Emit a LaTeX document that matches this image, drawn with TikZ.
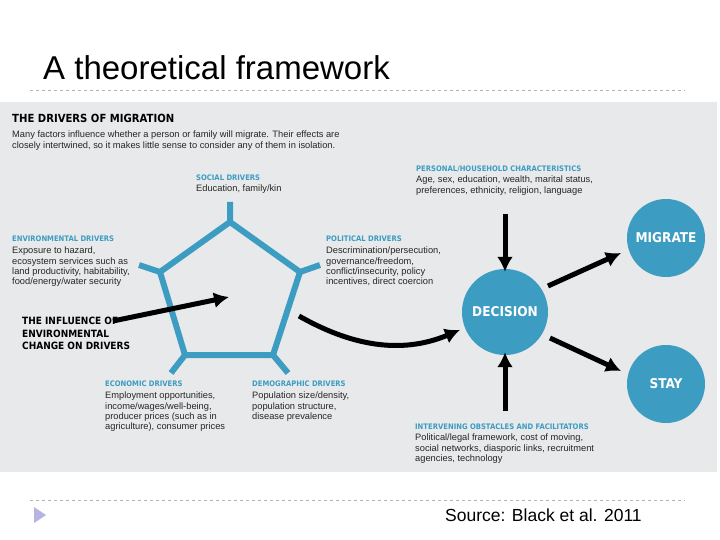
\documentclass[tikz,border=0pt]{standalone}
\usepackage{fontspec}
\setmainfont{Liberation Sans}
\newfontfamily\cond{DejaVu Sans Condensed}
\usetikzlibrary{arrows.meta}
\definecolor{teal}{HTML}{3C9CC2}
\definecolor{panel}{HTML}{E8E9EA}
\tikzset{
 hd/.style={anchor=north west,align=left,inner sep=0,font=\cond\bfseries\fontsize{7.6}{8}\selectfont,text=teal},
 bd/.style={anchor=north west,align=left,inner sep=0,font=\fontsize{9.3}{10.2}\selectfont,text=black!85},
 circ/.style={circle,fill=teal,minimum size=#1,inner sep=0,text=white,font=\cond\bfseries\fontsize{13.5}{15}\selectfont},
 arr/.style={line width=5pt,-{Latex[length=15pt,width=16pt]}},
 pent/.style={teal,line width=6pt}
}
\begin{document}
\begin{tikzpicture}[x=1pt,y=-1pt]
\useasboundingbox (0,0) rectangle (720,540);
\fill[white] (0,0) rectangle (720,540);
\node[anchor=west,inner sep=0,font=\fontsize{33}{36}\selectfont] (title) at (43,68) {A theoretical framework};
\draw[gray!60,dashed] (30,90) -- (685,90);
\fill[panel] (0,102) rectangle (717,472);
\node[anchor=north west,inner sep=0,font=\cond\bfseries\fontsize{11.2}{13}\selectfont] (hdr) at (12,114) {THE DRIVERS OF MIGRATION};
\node[bd] (intro) at (12,131) {Many factors influence whether a person or family will migrate. Their effects are\\closely intertwined, so it makes little sense to consider any of them in isolation.};
% pentagon
\coordinate (p1) at (230,222); \coordinate (p2) at (300,272); \coordinate (p3) at (273,355);
\coordinate (p4) at (185,355); \coordinate (p5) at (160,272);
\draw[pent,line join=miter] (p1)--(p2)--(p3)--(p4)--(p5)--cycle;
\coordinate (s1) at (230,202); \coordinate (s2) at (320,265); \coordinate (s3) at (288,373);
\coordinate (s4) at (171,373); \coordinate (s5) at (139,265);
\draw[pent] (p1)--(s1) (p2)--(s2) (p3)--(s3) (p4)--(s4) (p5)--(s5);
% texts
\node[hd] (soc) at (196,175) {SOCIAL DRIVERS};
\node[bd] (socb) at (196,185) {Education, family/kin};
\node[hd] (env) at (12,236) {ENVIRONMENTAL DRIVERS};
\node[bd] (envb) at (12,247) {Exposure to hazard,\\ecosystem services such as\\land productivity, habitability,\\food/energy/water security};
\node[hd] (pol) at (326,236) {POLITICAL DRIVERS};
\node[bd] (polb) at (326,247) {Descrimination/persecution,\\governance/freedom,\\conflict/insecurity, policy\\incentives, direct coercion};
\node[anchor=north west,align=left,inner sep=0,font=\cond\bfseries\fontsize{10}{12.5}\selectfont] (infl) at (22,317) {THE INFLUENCE OF\\ENVIRONMENTAL\\CHANGE ON DRIVERS};
\node[hd] (eco) at (105,381) {ECONOMIC DRIVERS};
\node[bd] (ecob) at (105,392) {Employment opportunities,\\income/wages/well-being,\\producer prices (such as in\\agriculture), consumer prices};
\node[hd] (dem) at (252,381) {DEMOGRAPHIC DRIVERS};
\node[bd] (demb) at (252,392) {Population size/density,\\population structure,\\disease prevalence};
\node[hd] (per) at (416,166) {PERSONAL/HOUSEHOLD CHARACTERISTICS};
\node[bd] (perb) at (416,176) {Age, sex, education, wealth, marital status,\\preferences, ethnicity, religion, language};
\node[hd] (int) at (415,424) {INTERVENING OBSTACLES AND FACILITATORS};
\node[bd] (intb) at (415,434) {Political/legal framework, cost of moving,\\social networks, diasporic links, recruitment\\agencies, technology};
% circles
\node[circ=86pt] (dec) at (505,312) {DECISION};
\node[circ=78pt] (mig) at (666,238) {MIGRATE};
\node[circ=78pt] (stay) at (666,384) {STAY};
% arrows
\coordinate (a1) at (505,214); \coordinate (a2) at (505,411);
\draw[arr] (a1) -- ([yshift=-3pt]dec.north);
\draw[arr] (a2) -- ([yshift=3pt]dec.south);
\coordinate (m1) at (548,286); \coordinate (m2) at (621,253);
\draw[arr] (m1) -- (m2);
\coordinate (t1) at (550,338); \coordinate (t2) at (621,371);
\draw[arr] (t1) -- (t2);
\coordinate (c1) at (299,316); \coordinate (c2) at (460,330);
\draw[arr] (c1) .. controls (350,345) and (400,355) .. (c2);
\coordinate (i1) at (113,321); \coordinate (i2) at (229,297);
\draw[arr] (i1) -- (i2);
% footer
\draw[gray!60,dashed] (30,500) -- (685,500);
\fill[gray!55!blue!40] (34,507) -- (34,523) -- (46,515) -- cycle;
\node[anchor=west,inner sep=0,font=\fontsize{17.5}{19}\selectfont] (src) at (445,515) {Source: Black et al. 2011};
\end{tikzpicture}
\end{document}
